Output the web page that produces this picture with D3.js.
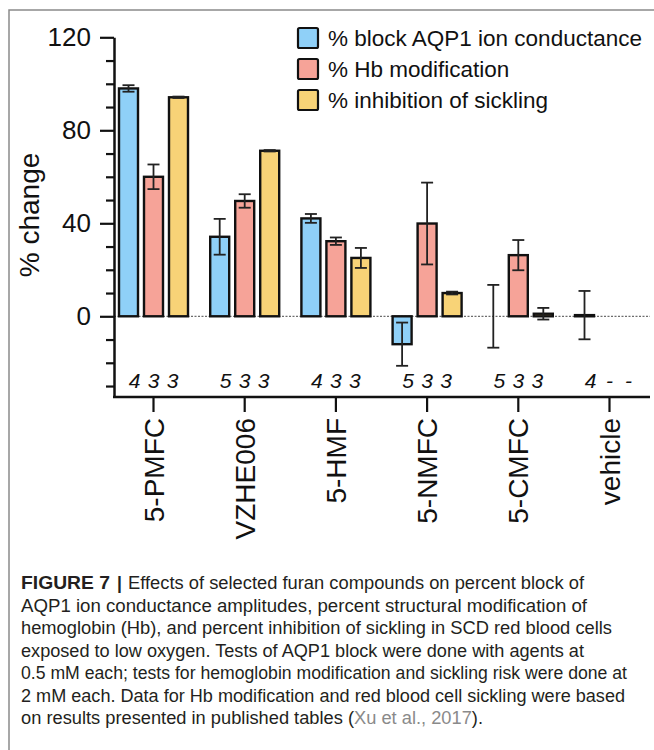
<!DOCTYPE html>
<html>
<head>
<meta charset="utf-8">
<script src="https://cdn.jsdelivr.net/npm/d3@7"></script>
<style>
  body { margin: 0; background: #fff; }
  svg { display: block; font-family: "Liberation Sans", Arial, Helvetica, sans-serif; }
</style>
</head>
<body>
<div id="chart"></div>
<script>
// categories, series and values
var categories = ["5-PMFC", "VZHE006", "5-HMF", "5-NMFC", "5-CMFC", "vehicle"];
var seriesNames = ["% block AQP1 ion conductance", "% Hb modification", "% inhibition of sickling"];
var seriesColors = ["#8fd0f8", "#f6a398", "#f8d377"];

var aqp1Block = [98, 34.2, 42.1, -12, 0, 0.5];
var aqp1Err = [1.4, 7.7, 1.9, 9.3, 13.5, 10.4];
var hbMod = [60, 49.6, 32.3, 39.9, 26.3, null];
var hbErr = [5.3, 2.9, 1.6, 17.6, 6.5, null];
var sickling = [94.2, 71.2, 25.1, 10, 1.1, null];
var sicklingErr = [0.3, 0.3, 4.3, 0.6, 2.5, null];

// n per bar, printed under the zero line
var nLabels = [["4", "3", "3"], ["5", "3", "3"], ["4", "3", "3"], ["5", "3", "3"], ["5", "3", "3"], ["4", "-", "-"]];

var yMajorTicks = [0, 40, 80, 120];
var yMinorTicks = [-30, -20, -10, 10, 20, 30, 50, 60, 70, 90, 100, 110];

var caption = [
  "AQP1 ion conductance amplitudes, percent structural modification of",
  "hemoglobin (Hb), and percent inhibition of sickling in SCD red blood cells",
  "exposed to low oxygen. Tests of AQP1 block were done with agents at",
  "0.5 mM each; tests for hemoglobin modification and sickling risk were done at",
  "2 mM each. Data for Hb modification and red blood cell sickling were based"
];

var width = 654, height = 750;

var svg = d3.select("#chart").append("svg")
    .attr("width", width)
    .attr("height", height);

svg.append("rect").attr("width", width).attr("height", height).attr("fill", "#fff");

// grey frame, top and left only
svg.append("path")
    .attr("d", "M9,750 L9,10 L654,10")
    .attr("fill", "none")
    .attr("stroke", "#8a8a8a")
    .attr("stroke-width", 1.5);

// scales
var y = d3.scaleLinear().domain([-34.5, 120]).range([396.5, 37.3]);
var x = d3.scaleBand().domain(categories).range([107.9, 655.1]);
var xs = d3.scaleBand().domain([0, 1, 2]).range([-37.5, 37.5]).paddingInner(0.24).paddingOuter(0.12);

// build rows from the arrays
var values = [aqp1Block, hbMod, sickling];
var errors = [aqp1Err, hbErr, sicklingErr];
var rows = [];
categories.forEach(function(c, i) {
  for (var s = 0; s < 3; s++) {
    if (values[s][i] === null) continue;
    rows.push({cat: c, s: s, v: values[s][i], e: errors[s][i]});
  }
});

function cx(d) { return x(d.cat) + x.bandwidth() / 2 + xs(d.s) + xs.bandwidth() / 2; }

// dotted zero line
svg.append("line")
    .attr("x1", 114).attr("x2", 650)
    .attr("y1", y(0)).attr("y2", y(0))
    .attr("stroke", "#6d6d6d")
    .attr("stroke-width", 1.3)
    .attr("stroke-dasharray", "2,1.5");

// bars
svg.selectAll("rect.bar")
    .data(rows.filter(function(d) { return d.v !== 0; }))
  .enter().append("rect")
    .attr("class", "bar")
    .attr("x", function(d) { return x(d.cat) + x.bandwidth() / 2 + xs(d.s); })
    .attr("width", xs.bandwidth())
    .attr("y", function(d) { return y(Math.max(0, d.v)); })
    .attr("height", function(d) { return Math.abs(y(d.v) - y(0)); })
    .attr("fill", function(d) { return seriesColors[d.s]; })
    .attr("stroke", "#111")
    .attr("stroke-width", 2.4);

// error bars
var err = svg.selectAll("g.err")
    .data(rows)
  .enter().append("g")
    .attr("class", "err")
    .attr("stroke", "#222")
    .attr("stroke-width", 1.8);

err.append("line")
    .attr("x1", cx).attr("x2", cx)
    .attr("y1", function(d) { return y(d.v + d.e); })
    .attr("y2", function(d) { return y(d.v - d.e); });
err.append("line")
    .attr("x1", function(d) { return cx(d) - 6; })
    .attr("x2", function(d) { return cx(d) + 6; })
    .attr("y1", function(d) { return y(d.v + d.e); })
    .attr("y2", function(d) { return y(d.v + d.e); });
err.append("line")
    .attr("x1", function(d) { return cx(d) - 6; })
    .attr("x2", function(d) { return cx(d) + 6; })
    .attr("y1", function(d) { return y(d.v - d.e); })
    .attr("y2", function(d) { return y(d.v - d.e); });

// n labels
categories.forEach(function(c, i) {
  nLabels[i].forEach(function(t, s) {
    svg.append("text")
        .attr("x", x(c) + x.bandwidth() / 2 + (s - 1) * 19)
        .attr("y", 388)
        .attr("text-anchor", "middle")
        .attr("font-size", 21)
        .attr("font-style", "italic")
        .attr("fill", "#111")
        .text(t);
  });
});

// y axis (major + minor ticks)
var yAxis = svg.append("g")
    .attr("transform", "translate(114,0)")
    .call(d3.axisLeft(y).tickValues(yMajorTicks).tickSize(14).tickSizeOuter(0).tickPadding(9));
yAxis.select(".domain").attr("stroke", "#111").attr("stroke-width", 2.5);
yAxis.selectAll(".tick line").attr("stroke", "#111").attr("stroke-width", 2.2);
yAxis.selectAll(".tick text").attr("font-size", 26).attr("font-family", "Liberation Sans, Arial, sans-serif").attr("fill", "#111");

var yMinor = svg.append("g")
    .attr("transform", "translate(114,0)")
    .call(d3.axisLeft(y).tickValues(yMinorTicks).tickSize(8).tickFormat(""));
yMinor.select(".domain").remove();
yMinor.selectAll(".tick line").attr("stroke", "#111").attr("stroke-width", 2.2);

// y label
svg.append("text")
    .attr("transform", "translate(39,215) rotate(-90)")
    .attr("text-anchor", "middle")
    .attr("font-size", 28)
    .attr("fill", "#111")
    .text("% change");

// x axis
var xAxis = svg.append("g")
    .attr("transform", "translate(0,397)")
    .call(d3.axisBottom(x).tickSize(15).tickSizeOuter(0));
xAxis.select(".domain").remove();
xAxis.selectAll(".tick line").attr("stroke", "#111").attr("stroke-width", 2.2);
xAxis.selectAll(".tick text")
    .attr("font-size", 28)
    .attr("font-family", "Liberation Sans, Arial, sans-serif")
    .attr("fill", "#111")
    .attr("text-anchor", "end")
    .attr("transform", "rotate(-90)")
    .attr("x", -21)
    .attr("y", 0)
    .attr("dy", "0.36em");
svg.append("line")
    .attr("x1", 113).attr("x2", 650)
    .attr("y1", 397).attr("y2", 397)
    .attr("stroke", "#111")
    .attr("stroke-width", 2.5);

// legend
var legend = svg.selectAll("g.legend")
    .data(seriesNames)
  .enter().append("g")
    .attr("class", "legend")
    .attr("transform", function(d, i) { return "translate(298," + (28 + i * 31) + ")"; });
legend.append("rect")
    .attr("width", 20).attr("height", 20).attr("rx", 1.5)
    .attr("fill", function(d, i) { return seriesColors[i]; })
    .attr("stroke", "#111")
    .attr("stroke-width", 2.2);
legend.append("text")
    .attr("x", 30).attr("y", 18)
    .attr("font-size", 22.5)
    .attr("fill", "#111")
    .text(function(d) { return d; });

// caption
var capTop = 589, capStep = 22.5;
var capEnds = [587, 612, 584, 627, 625];
var cap = svg.append("g").attr("fill", "#231f20").attr("font-size", 17.5);
cap.append("text")
    .attr("x", 21).attr("y", capTop)
    .attr("font-weight", "bold")
    .attr("textLength", 89).attr("lengthAdjust", "spacingAndGlyphs")
    .text("FIGURE 7");
cap.append("text")
    .attr("x", 117).attr("y", capTop)
    .attr("font-weight", "bold")
    .text("|");
cap.append("text")
    .attr("x", 128).attr("y", capTop)
    .attr("textLength", 584 - 128).attr("lengthAdjust", "spacingAndGlyphs")
    .text("Effects of selected furan compounds on percent block of");
caption.forEach(function(line, i) {
  cap.append("text")
      .attr("x", 21).attr("y", capTop + (i + 1) * capStep)
      .attr("textLength", capEnds[i] - 21).attr("lengthAdjust", "spacingAndGlyphs")
      .text(line);
});
var last = cap.append("text")
    .attr("x", 21).attr("y", capTop + 6 * capStep)
    .attr("textLength", 483 - 21).attr("lengthAdjust", "spacingAndGlyphs");
last.append("tspan").text("on results presented in published tables (");
last.append("tspan").attr("fill", "#8a8a8a").text("Xu et al., 2017");
last.append("tspan").text(").");
</script>
</body>
</html>
